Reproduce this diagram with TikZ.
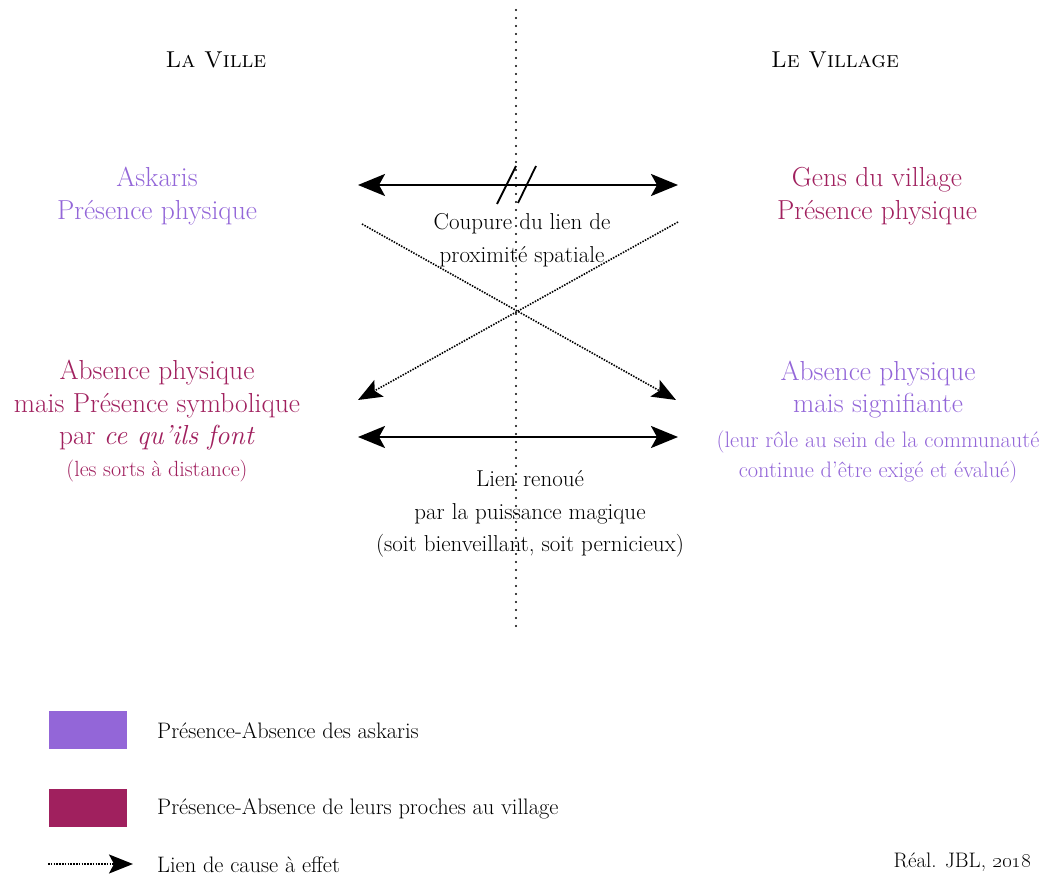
\documentclass[tikz,border=0pt]{standalone}
\usetikzlibrary{arrows.meta}
\definecolor{askviolet}{RGB}{147,102,216}
\definecolor{procheprune}{RGB}{160,32,94}

\begin{document}
\begin{tikzpicture}[x=1pt,y=-1pt,
    big/.style={align=center, font=\fontsize{27.5}{32.5}\selectfont},
    small/.style={align=center, font=\fontsize{23}{32.5}\selectfont},
    titre/.style={font=\fontsize{23}{26}\selectfont},
    legtext/.style={anchor=west, inner sep=0pt, font=\fontsize{22.4}{24}\selectfont},
    legbox/.style={minimum width=78pt, minimum height=38pt, inner sep=0pt},
    link/.style={line width=2.4pt, {Stealth[length=27pt,width=22pt,inset=6pt]}-{Stealth[length=27pt,width=22pt,inset=6pt]}},
    cause/.style={line width=1.6pt, dash pattern=on 1.5pt off 1.3pt, -{Stealth[length=24pt,width=19pt,inset=5pt]}}]
    \useasboundingbox (0,0) rectangle (1042,877);

    %titles
    \node[titre] (ville) at (216,60) {\textsc{La Ville}};
    \node[titre] (village) at (835,60) {\textsc{Le Village}};

    %labels
    \node[big, askviolet] (askaris) at (157,196) {Askaris\\Présence physique};
    \node[big, procheprune] (gens) at (877,196) {Gens du village\\Présence physique};
    \node[big, procheprune] (absville) at (157,421) {Absence physique\\mais Présence symbolique\\par \textit{ce qu'ils font}\\[-1pt]
        {\fontsize{22}{30}\selectfont (les sorts à distance)}};
    \node[big, askviolet] (absvillage) at (878,422) {Absence physique\\mais signifiante\\[2pt]
        {\fontsize{22.4}{30}\selectfont (leur rôle au sein de la communauté}\\[-2pt]
        {\fontsize{22.4}{30}\selectfont continue d'être exigé et évalué)}};
    \node[small] (coupure) at (522,240) {Coupure du lien de\\proximité spatiale};
    \node[small] (renoue) at (530,514) {Lien renoué\\par la puissance magique\\(soit bienveillant, soit pernicieux)};

    %axis (dots)
    \coordinate (axhaut) at (516,10);
    \coordinate (axbas) at (516,632);
    \draw[line width=2.4pt, line cap=round, dash pattern=on 0pt off 8pt] (axhaut) -- (axbas);

    %links
    \coordinate (procheG) at (358,185);
    \coordinate (procheD) at (678,185);
    \coordinate (magieG) at (358,437);
    \coordinate (magieD) at (678,437);
    \draw[link] (procheG) -- (procheD);
    \draw[link] (magieG) -- (magieD);

    %cut
    \coordinate (barreA1) at (497,204);
    \coordinate (barreA2) at (516,166);
    \coordinate (barreB1) at (518,203);
    \coordinate (barreB2) at (536,166);
    \draw[line width=1.8pt] (barreA1) -- (barreA2);
    \draw[line width=1.8pt] (barreB1) -- (barreB2);

    %cause (cross)
    \coordinate (croixGH) at (362,224);
    \coordinate (croixDB) at (676,400);
    \coordinate (croixDH) at (678,222);
    \coordinate (croixGB) at (358,400);
    \draw[cause] (croixGH) -- (croixDB);
    \draw[cause] (croixDH) -- (croixGB);

    %legend
    \node[legbox, fill=askviolet] (legask) at (88,730) {};
    \node[legbox, fill=procheprune] (legproche) at (88,807.5) {};
    \node[legtext] (legasktxt) at (157,731) {Présence-Absence des askaris};
    \node[legtext] (legprochetxt) at (157,809) {Présence-Absence de leurs proches au village};
    \coordinate (legcauseG) at (48,864);
    \coordinate (legcauseD) at (133,864);
    \draw[cause] (legcauseG) -- (legcauseD);
    \node[legtext] (legcausetxt) at (157,865) {Lien de cause à effet};

    %credit
    \node[legtext, anchor=east, font=\fontsize{21}{22}\selectfont] (credit) at (1031,862) {Réal. JBL, \oldstylenums{2018}};
\end{tikzpicture}
\end{document}
